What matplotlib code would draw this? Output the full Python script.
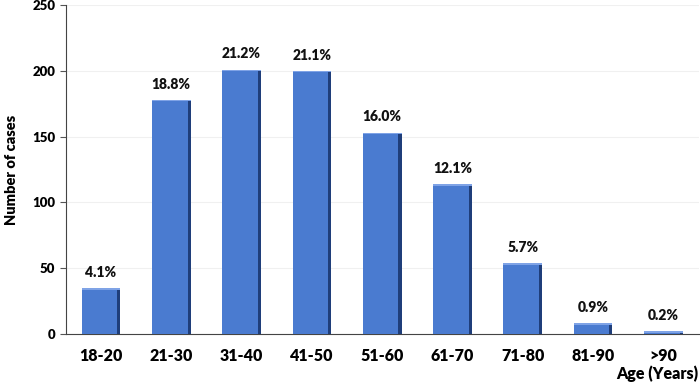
import matplotlib
matplotlib.use("Agg")
import matplotlib.pyplot as plt

categories = ["18-20", "21-30", "31-40", "41-50", "51-60", "61-70", "71-80", "81-90", ">90"]
cases = [35, 178, 201, 200, 153, 114, 54, 8, 2]
percent_labels = ["4.1%", "18.8%", "21.2%", "21.1%", "16.0%", "12.1%", "5.7%", "0.9%", "0.2%"]
y_ticks = [0, 50, 100, 150, 200, 250]

plt.rcParams['font.family'] = ['Lato', 'DejaVu Sans']
fig = plt.figure(figsize=(7, 3.87), dpi=100)
ax = fig.add_axes([0.094, 0.137, 0.904, 0.850])

x = list(range(len(categories)))
w = 0.55
main = "#4a7bd0"
dark = "#1f3e7a"
ax.bar(x, cases, width=w, color=main, edgecolor="none", zorder=3)
# dark right shading strip
ax.bar([xi + w / 2 - 0.022 for xi in x], cases, width=0.044, color=dark, edgecolor="none", zorder=4)
# light top highlight
ax.bar(x, [min(c, 1.2) for c in cases], bottom=[c - min(c, 1.2) for c in cases], width=w,
       color="#7fa3e6", edgecolor="none", zorder=4)

for xi, c, lab in zip(x, cases, percent_labels):
    ax.text(xi, c + 7, lab, ha="center", va="bottom", fontsize=10, fontweight="heavy", color="#111111")

ax.set_xlim(-0.5, 8.5)
ax.set_ylim(0, 250)
ax.set_yticks(y_ticks)
ax.set_yticklabels([str(t) for t in y_ticks], fontsize=9.5, fontweight="heavy")
ax.set_xticks(x)
ax.set_xticklabels(categories, fontsize=11.5, fontweight="heavy")
ax.tick_params(axis="x", length=0, pad=10)
ax.tick_params(axis="y", length=4, color="#555555")
ax.yaxis.grid(True, color="#f0f0f0", linewidth=0.8, zorder=0)
ax.set_axisbelow(True)
for s in ["top", "right"]:
    ax.spines[s].set_visible(False)
ax.spines["left"].set_color("#444444")
ax.spines["bottom"].set_color("#444444")
ax.set_ylabel("Number of cases", fontsize=10.5, fontweight="heavy", labelpad=10)
fig.text(0.997, 0.012, "Age (Years)", ha="right", va="bottom", fontsize=11.5, fontweight="heavy")

fig.savefig("out.png", dpi=100)
